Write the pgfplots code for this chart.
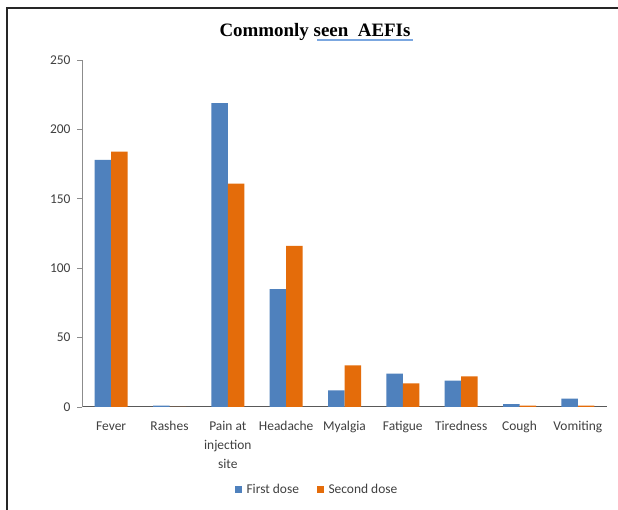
\documentclass[border=0pt]{standalone}
\usepackage{fontspec}
\setmainfont{Carlito}
\newfontfamily\titlefont{Liberation Serif}
\usepackage{pgfplots}
\pgfplotsset{compat=1.18}
\definecolor{cblue}{HTML}{4F81BD}
\definecolor{corange}{HTML}{E46C0A}
\definecolor{ctext}{HTML}{404040}
\definecolor{uline}{HTML}{7BA7E0}
\begin{document}
\begin{tikzpicture}[x=1bp,y=1bp]
\path[use as bounding box] (0,0) rectangle (618,510);
\fill[white] (0,0) rectangle (618,510);
\draw[line width=2bp, color=black!85] (7,0) -- (7,502) -- (618,502);
\node[anchor=base, font={\titlefont\bfseries\fontsize{19}{21}\selectfont}] at (315,473) {Commonly seen\ \ AEFIs};
\draw[uline, line width=2bp] (317,469.5) -- (413,469.5);
\begin{axis}[
  at={(82bp,103bp)}, anchor=south west,
  scale only axis, width=525bp, height=347bp,
  ybar=0pt, bar width=16.5bp,
  xmin=-0.5, xmax=8.5, ymin=0, ymax=250,
  axis x line=bottom, axis y line=left,
  x axis line style={-, color=black!65, line width=1bp},
  y axis line style={-, color=black!45, line width=0.8bp},
  ytick={0,50,100,150,200,250},
  tick align=outside, major tick length=5bp,
  ytick style={color=black!45, line width=0.8bp},
  xtick style={draw=none},
  xtick=data,
  xticklabels={Fever, Rashes, {Pain at\\injection\\site}, Headache, Myalgia, Fatigue, Tiredness, Cough, Vomiting},
  xticklabel style={align=center, text=ctext, font={\fontsize{13.5}{19}\selectfont}, anchor=north, yshift=-6bp},
  yticklabel style={text=ctext, font={\fontsize{13.5}{15}\selectfont}, xshift=-3bp},
  /pgf/number format/assume math mode=true,
  legend style={at={(0.448,-0.239)}, anchor=center, draw=none, fill=none,
    legend columns=2, font={\fontsize{13.5}{15}\selectfont}, text=ctext,
    /tikz/every odd column/.append style={column sep=3bp},
    /tikz/every even column/.append style={column sep=16bp}},
  legend image code/.code={\fill[#1,draw=none] (0bp,-3bp) rectangle (6.5bp,3.5bp);},
]
\addplot[fill=cblue, draw=none] coordinates {(0,178) (1,1) (2,219) (3,85) (4,12) (5,24) (6,19) (7,2) (8,6)};
\addplot[fill=corange, draw=none] coordinates {(0,184) (1,0) (2,161) (3,116) (4,30) (5,17) (6,22) (7,1) (8,1)};
\legend{First dose, Second dose}
\end{axis}
\end{tikzpicture}
\end{document}
